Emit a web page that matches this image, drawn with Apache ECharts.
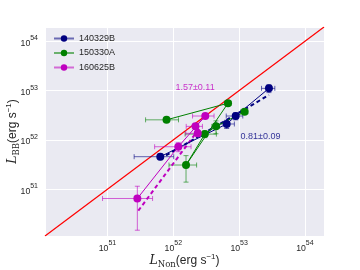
<!DOCTYPE html>
<html><head><meta charset="utf-8">
<script src="https://cdn.jsdelivr.net/npm/echarts@6/dist/echarts.min.js"></script>
<style>html,body{margin:0;padding:0;background:#fff}#c{width:360px;height:270px}</style>
</head><body><div id="c"></div>
<script>
// ---- data (luminosities in units of 1e51 erg/s) ----
const burstNames = ['140329B', '150330A', '160625B'];
const burstColors = ['#000080', '#008000', '#bf00bf'];

const lNon_140329B    = [6.34, 64.7, 88.7, 284];
const lNonErr_140329B = [3.8, 20, 25, 65];
const lBB_140329B     = [4.56, 21.0, 30.5, 111];
const lBBErr_140329B  = [0.6, 4, 5, 20];

const lNon_150330A    = [7.89, 67.8, 15.6, 30.1, 44.5, 121];
const lNonErr_150330A = [4.1, 8, 7, 15, 6, 15];
const lBB_150330A     = [25.5, 55.5, 3.09, 13.1, 18.8, 37.1];
const lBBErr_150330A  = [1.5, 5, 1.7, 2, 5.5, 4];

const lNon_160625B    = [2.84, 11.9, 30.6, 21.7, 23.5];
const lNonErr_160625B = [2.0, 6.7, 11, 6, 8];
const lBB_160625B     = [0.647, 7.26, 30.5, 18.8, 13.6];
const lBBErr_160625B  = [0.5, 1.5, 3, 2, 2];

// fitted power laws (end points of the dashed lines)
const fitNon_140329B = [6.28, 284];
const fitBB_140329B  = [4.09, 81.3];
const fitLabel_140329B = '0.81±0.09';
const fitLabelAt_140329B = [211, 11.6];

const fitNon_160625B = [2.94, 25.5];
const fitBB_160625B  = [0.366, 17.9];
const fitLabel_160625B = '1.57±0.11';
const fitLabelAt_160625B = [21.4, 117];

// axis range (exponents of 10)
const axisExpMin = 50.05, axisExpMax = 54.29;

// ---- helpers ----
const toExp = v => 51 + Math.log10(v);
const lowExp = (v, e) => (v - e > 0 ? toExp(v - e) : axisExpMin - 1);

const groups = [
  [lNon_140329B, lNonErr_140329B, lBB_140329B, lBBErr_140329B],
  [lNon_150330A, lNonErr_150330A, lBB_150330A, lBBErr_150330A],
  [lNon_160625B, lNonErr_160625B, lBB_160625B, lBBErr_160625B]
];

function errorBarItem(color) {
  return function (params, api) {
    const x = api.value(0), y = api.value(1);
    const c = api.coord([x, y]);
    const xl = api.coord([api.value(2), y]), xh = api.coord([api.value(3), y]);
    const yl = api.coord([x, api.value(4)]), yh = api.coord([x, api.value(5)]);
    const cap = 2.5;
    const st = { stroke: color, lineWidth: 1, opacity: 0.6 };
    const L = (x1, y1, x2, y2) => ({ type: 'line', shape: { x1, y1, x2, y2 }, style: st });
    return {
      type: 'group', children: [
        L(xl[0], c[1], xh[0], c[1]),
        L(c[0], yl[1], c[0], yh[1]),
        L(xl[0], c[1] - cap, xl[0], c[1] + cap),
        L(xh[0], c[1] - cap, xh[0], c[1] + cap),
        L(c[0] - cap, yl[1], c[0] + cap, yl[1]),
        L(c[0] - cap, yh[1], c[0] + cap, yh[1])
      ]
    };
  };
}

const series = [];
// y = x reference line
series.push({
  type: 'line', name: 'equality', silent: true, symbol: 'none', z: 2,
  data: [[axisExpMin, axisExpMin], [axisExpMax, axisExpMax]],
  lineStyle: { color: '#ff0000', width: 1.2 }
});

groups.forEach((g, i) => {
  const [xs, xe, ys, ye] = g;
  series.push({
    type: 'custom', name: 'err' + burstNames[i], z: 3, clip: true, silent: true,
    renderItem: errorBarItem(burstColors[i]),
    data: xs.map((x, k) => [toExp(x), toExp(ys[k]),
      lowExp(x, xe[k]), toExp(x + xe[k]), lowExp(ys[k], ye[k]), toExp(ys[k] + ye[k])])
  });
  series.push({
    type: 'line', name: burstNames[i], z: 5,
    symbol: 'circle', symbolSize: 8,
    itemStyle: { color: burstColors[i] },
    lineStyle: { color: burstColors[i], width: 1 },
    data: xs.map((x, k) => [toExp(x), toExp(ys[k])])
  });
});

const fits = [
  [fitNon_140329B, fitBB_140329B, fitLabel_140329B, fitLabelAt_140329B, burstColors[0]],
  [fitNon_160625B, fitBB_160625B, fitLabel_160625B, fitLabelAt_160625B, burstColors[2]]
];
fits.forEach((f, i) => {
  const [fx, fy, lab, at, col] = f;
  series.push({
    type: 'line', name: 'fit' + i, symbol: 'none', z: 4, silent: true,
    lineStyle: { color: col, width: 2, type: [4, 3] },
    data: fx.map((x, k) => [toExp(x), toExp(fy[k])])
  });
  series.push({
    type: 'scatter', name: 'lab' + i, symbolSize: 1, z: 6, silent: true,
    itemStyle: { color: 'rgba(0,0,0,0)' },
    label: { show: true, position: 'inside', formatter: lab, color: col,
      fontFamily: 'Liberation Sans, Arial', fontSize: 9 },
    data: [[toExp(at[0]), toExp(at[1])]]
  });
});

const isInt = v => Math.abs(v - Math.round(v)) < 1e-6;
const tickRich = {
  b: { fontFamily: 'Liberation Sans, Arial', fontSize: 8.7, color: '#262626', verticalAlign: 'bottom', lineHeight: 13 },
  s: { fontFamily: 'Liberation Sans, Arial', fontSize: 7, color: '#262626', verticalAlign: 'top', lineHeight: 13 }
};
const tickFmt = v => isInt(v) ? '{b|10}{s|' + Math.round(v) + '}' : '';
const nameRich = {
  i: { fontFamily: 'DejaVu Serif, Liberation Serif', fontStyle: 'italic', fontSize: 12.5, color: '#262626', lineHeight: 16 },
  sub: { fontFamily: 'DejaVu Serif, Liberation Serif', fontSize: 8.5, color: '#262626', verticalAlign: 'bottom', lineHeight: 16 },
  t: { fontFamily: 'Liberation Sans, Arial', fontSize: 12, color: '#262626', lineHeight: 16 },
  sup: { fontFamily: 'Liberation Sans, Arial', fontSize: 8, color: '#262626', verticalAlign: 'top', lineHeight: 16 }
};

const chart = echarts.init(document.getElementById('c'), null, { renderer: 'canvas' });
chart.setOption({
  animation: false,
  backgroundColor: '#ffffff',
  grid: { left: 45, top: 27, width: 279, height: 209, show: true, backgroundColor: '#EAEAF2', borderWidth: 0,
    containLabel: false, outerBoundsMode: 'none' },
  legend: {
    data: burstNames, orient: 'vertical', left: 53, top: 34, padding: 0,
    itemWidth: 20, itemHeight: 8, itemGap: 5.5,
    lineStyle: { opacity: 0.55 },
    textStyle: { fontFamily: 'Liberation Sans, Arial', fontSize: 9, color: '#262626' }
  },
  xAxis: {
    type: 'value', min: axisExpMin, max: axisExpMax,
    axisLine: { show: false }, axisTick: { show: false },
    splitLine: { show: true, lineStyle: { color: '#ffffff', width: 1 } },
    axisLabel: { formatter: tickFmt, rich: tickRich, margin: 4, showMinLabel: false, showMaxLabel: false },
    name: '{i|L}{sub|Non}{t|(erg s}{sup|−1}{t|)}', nameLocation: 'middle', nameGap: 17, nameMoveOverlap: false,
    nameTextStyle: { rich: nameRich }
  },
  yAxis: {
    type: 'value', min: axisExpMin, max: axisExpMax,
    axisLine: { show: false }, axisTick: { show: false },
    splitLine: { show: true, lineStyle: { color: '#ffffff', width: 1 } },
    axisLabel: { formatter: tickFmt, rich: tickRich, margin: 7, showMinLabel: false, showMaxLabel: false },
    name: '{i|L}{sub|BB}{t|(erg s}{sup|−1}{t|)}', nameLocation: 'middle', nameGap: 24, nameRotate: 90, nameMoveOverlap: false,
    nameTextStyle: { rich: nameRich }
  },
  series: series
});
</script></body></html>
